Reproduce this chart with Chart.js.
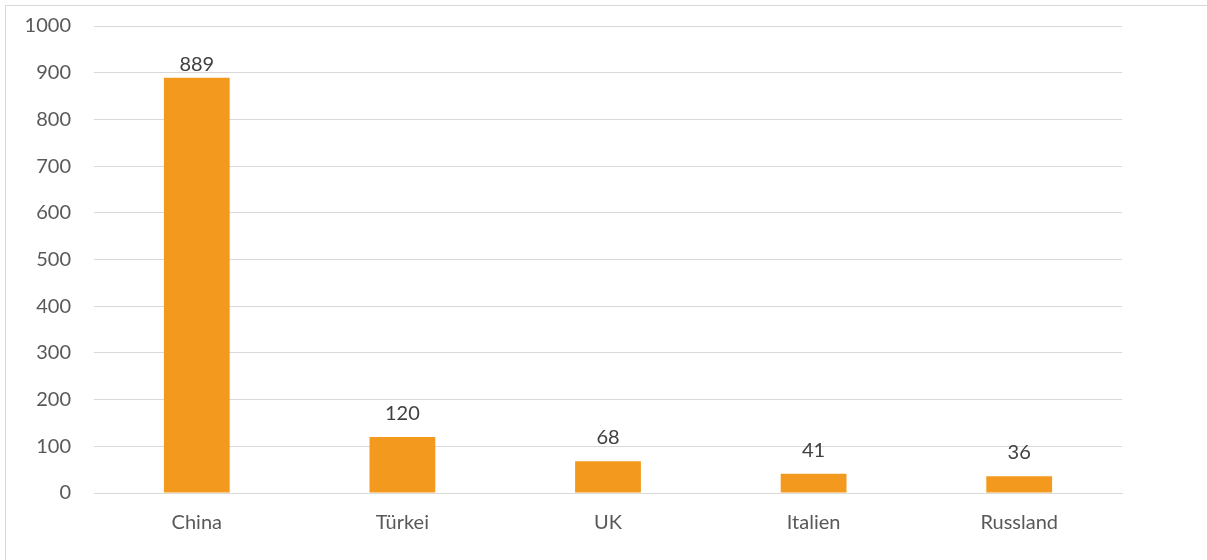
<!DOCTYPE html>
<html>
<head>
<meta charset="utf-8">
<script src="https://cdn.jsdelivr.net/npm/chart.js@4"></script>
<style>
  html, body { margin: 0; padding: 0; background: #fff; }
  #wrap { position: relative; width: 1207px; height: 560px; overflow: hidden; }
  #frame { position: absolute; left: 5px; top: 5px; width: 1210px; height: 600px; border: 1px solid #d9d9d9; box-sizing: border-box; }
  #chartBox { position: absolute; left: 0; top: 0; width: 1207px; height: 560px; }
</style>
</head>
<body>
<div id="wrap">
  <div id="frame"></div>
  <div id="chartBox"><canvas id="countryChart"></canvas></div>
</div>
<script>
const categories = ['China', 'Türkei', 'UK', 'Italien', 'Russland'];
const values = [889, 120, 68, 41, 36];
const yTicks = [0, 100, 200, 300, 400, 500, 600, 700, 800, 900, 1000];

const FONT = "Lato, 'Open Sans', sans-serif";

// Value labels above each bar (kept inside the plot near the top)
const barLabels = {
  id: 'barLabels',
  afterDatasetsDraw(chart) {
    const ctx = chart.ctx;
    const meta = chart.getDatasetMeta(0);
    const minBase = chart.chartArea.top + 45;
    ctx.save();
    ctx.fillStyle = '#404040';
    ctx.font = '20px ' + FONT;
    ctx.textAlign = 'center';
    ctx.textBaseline = 'alphabetic';
    meta.data.forEach((bar, i) => {
      const y = Math.max(bar.y - 17, minBase);
      ctx.fillText(String(values[i]), bar.x, y);
    });
    ctx.restore();
  }
};

document.addEventListener('DOMContentLoaded', () => {
  const ctx = document.getElementById('countryChart');
  new Chart(ctx, {
    type: 'bar',
    data: {
      labels: categories,
      datasets: [{
        data: values,
        backgroundColor: '#F39A1E',
        categoryPercentage: 1,
        barPercentage: 0.32
      }]
    },
    options: {
      responsive: true,
      maintainAspectRatio: false,
      animation: false,
      layout: { padding: { left: 0, right: 85, top: 26, bottom: 0 } },
      plugins: { legend: { display: false }, tooltip: { enabled: false } },
      scales: {
        y: {
          min: 0,
          max: 1000,
          afterBuildTicks: axis => { axis.ticks = yTicks.map(v => ({ value: v })); },
          afterFit: axis => {
            axis.width = 94;
            axis.paddingTop = 0;
            axis.paddingBottom = 0;
          },
          border: { display: false },
          grid: { color: '#d9d9d9', lineWidth: 1, drawTicks: false },
          ticks: {
            color: '#595959',
            font: { family: FONT, size: 20 },
            padding: 23,
            callback: v => String(v)
          }
        },
        x: {
          afterFit: axis => { axis.height = 67; },
          border: { display: true, color: '#d9d9d9' },
          grid: { display: false, drawTicks: false },
          ticks: { color: '#595959', font: { family: FONT, size: 20 }, padding: 18 }
        }
      }
    },
    plugins: [barLabels]
  });
});
</script>
</body>
</html>
